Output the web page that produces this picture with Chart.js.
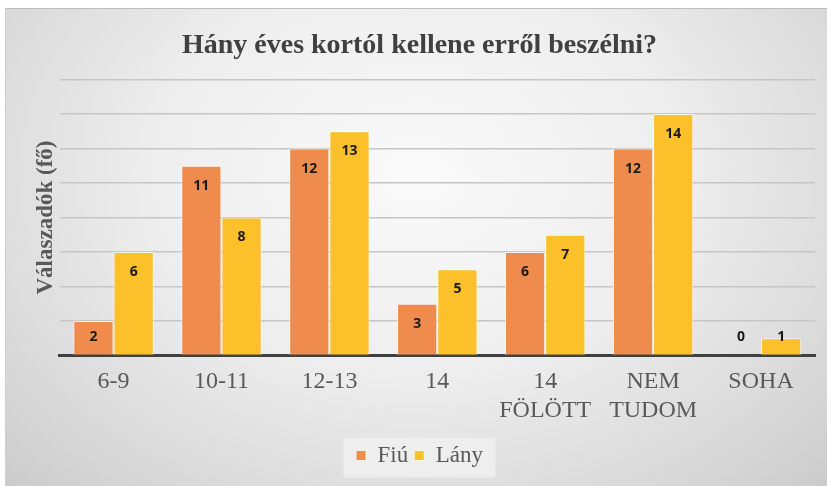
<!DOCTYPE html>
<html>
<head>
<meta charset="utf-8">
<script src="https://cdn.jsdelivr.net/npm/chart.js@4"></script>
<style>
  html, body { margin: 0; padding: 0; background: #ffffff; }
  #wrap {
    position: absolute; left: 5px; top: 8px; width: 822px; height: 478px;
    border-top: 1px solid #bdbdbd; border-left: 1px solid #d0d0d0;
    box-sizing: border-box;
    background: radial-gradient(ellipse at 50% 35%, #fafafa 0%, #eeeeee 45%, #d6d6d6 85%, #cbcbcb 100%);
  }
</style>
</head>
<body>
<div id="wrap"><canvas id="barChart"></canvas></div>
<script>
const categories = [['6-9'], ['10-11'], ['12-13'], ['14'], ['14', 'FÖLÖTT'], ['NEM', 'TUDOM'], ['SOHA']];
const fiuValues = [2, 11, 12, 3, 6, 12, 0];
const lanyValues = [6, 8, 13, 5, 7, 14, 1];

const serif = '"Liberation Serif", "Times New Roman", serif';

// value labels just inside the top of each bar, kept clear of the axis
const barLabels = {
    id: 'barLabels',
    afterDatasetsDraw(chart) {
        const ctx = chart.ctx;
        const base = chart.scales.y.getPixelForValue(0);
        ctx.save();
        ctx.font = 'bold 14px "Open Sans", "Liberation Sans", sans-serif';
        ctx.fillStyle = '#1a1a1a';
        ctx.textAlign = 'center';
        ctx.textBaseline = 'middle';
        chart.data.datasets.forEach((ds, i) => {
            chart.getDatasetMeta(i).data.forEach((bar, j) => {
                const y = Math.min(bar.y + 20, base - 18);
                ctx.fillText(String(ds.data[j]), bar.x, y);
            });
        });
        ctx.restore();
    }
};

// light panel behind the legend
const legendPanel = {
    id: 'legendPanel',
    beforeDraw(chart) {
        const lg = chart.legend;
        if (!lg) return;
        const w = 152, h = 40;
        const x = lg.left + lg.width / 2 - w / 2;
        const y = lg.top + lg.height / 2 - h / 2;
        chart.ctx.save();
        chart.ctx.fillStyle = 'rgba(240,240,240,0.85)';
        chart.ctx.fillRect(x, y, w, h);
        chart.ctx.restore();
    }
};

new Chart(document.getElementById('barChart'), {
    type: 'bar',
    data: {
        labels: categories,
        datasets: [
            {
                label: 'Fiú',
                data: fiuValues,
                backgroundColor: '#ee8b4d',
                borderColor: 'rgba(255,255,255,0.75)',
                borderWidth: 1
            },
            {
                label: 'Lány',
                data: lanyValues,
                backgroundColor: '#fbc02a',
                borderColor: 'rgba(255,255,255,0.75)',
                borderWidth: 1
            }
        ]
    },
    options: {
        responsive: true,
        maintainAspectRatio: false,
        animation: false,
        categoryPercentage: 0.745,
        barPercentage: 1.0,
        layout: { padding: { left: 18, right: 12, top: 4, bottom: 9 } },
        plugins: {
            title: {
                display: true,
                text: 'Hány éves kortól kellene erről beszélni?',
                color: '#404040',
                font: { family: serif, size: 28, weight: 'bold' },
                padding: { top: 16, bottom: 17 }
            },
            legend: {
                position: 'bottom',
                labels: {
                    color: '#595959',
                    font: { family: serif, size: 23 },
                    boxWidth: 10,
                    boxHeight: 10,
                    padding: 6
                }
            },
            tooltip: { enabled: false }
        },
        scales: {
            x: {
                grid: { display: false },
                border: { color: '#404040', width: 3 },
                ticks: {
                    color: '#595959',
                    font: { family: serif, size: 24, lineHeight: 1.2 },
                    padding: 4,
                    maxRotation: 0
                },
                afterFit(scale) { scale.height += 9; }
            },
            y: {
                min: 0,
                max: 16,
                ticks: { display: false, stepSize: 2 },
                grid: { color: '#c6c6c6', lineWidth: 1.5, drawTicks: false },
                border: { display: false },
                title: {
                    display: true,
                    text: 'Válaszadók (fő)',
                    color: '#595959',
                    font: { family: serif, size: 23, weight: 'bold' },
                    padding: { top: 8, bottom: 0 }
                }
            }
        }
    },
    plugins: [barLabels, legendPanel]
});
</script>
</body>
</html>
